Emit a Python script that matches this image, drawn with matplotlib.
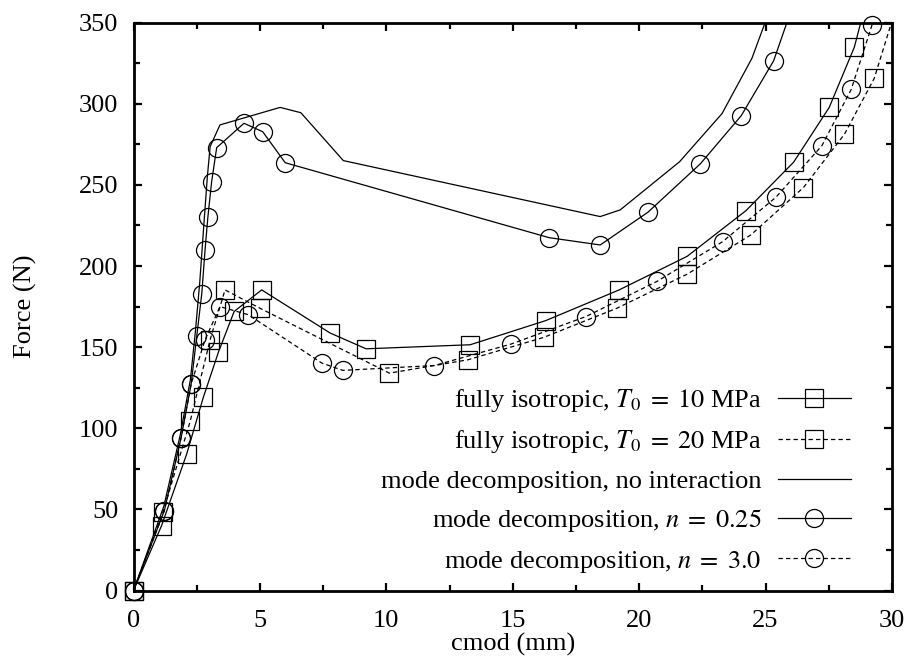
import matplotlib
matplotlib.use("Agg")
import matplotlib.pyplot as plt
from matplotlib.lines import Line2D
from matplotlib.ticker import MultipleLocator

plt.rcParams["font.family"] = ["Liberation Serif", "DejaVu Serif"]
plt.rcParams["mathtext.fontset"] = "stix"

# fully isotropic, T0 = 10 MPa
iso10_x = [0.0, 1.11, 2.10, 2.76, 3.36, 3.98, 5.07, 7.78, 9.20, 13.32, 16.31, 19.21, 21.90, 24.23, 26.11, 27.52, 28.51, 28.90]
iso10_y = [0.0, 40.0, 84.0, 119.0, 147.0, 172.0, 185.3, 158.7, 149.0, 151.5, 166.4, 185.3, 206.0, 234.2, 264.0, 297.8, 334.8, 358.0]

# fully isotropic, T0 = 20 MPa
iso20_x = [0.0, 1.17, 2.24, 3.03, 3.62, 5.00, 10.12, 13.22, 16.22, 19.12, 21.90, 24.42, 26.50, 28.12, 29.30, 30.10]
iso20_y = [0.0, 48.6, 104.2, 154.6, 185.3, 174.0, 134.0, 142.2, 156.0, 174.0, 195.0, 219.2, 248.4, 281.2, 315.7, 356.0]

# mode decomposition, no interaction
noint_x = [0.0, 1.20, 1.85, 2.25, 2.45, 2.62, 2.78, 2.92, 3.03, 3.42, 5.80, 6.62, 8.30, 18.46, 19.25, 21.60, 23.28, 24.46, 25.10]
noint_y = [0.0, 52.0, 96.0, 130.0, 160.0, 190.0, 225.0, 255.0, 273.6, 287.0, 297.8, 294.5, 265.0, 230.5, 234.6, 264.3, 294.0, 328.0, 355.0]

# mode decomposition, n = 0.25
n025_x = [0.0, 1.22, 1.88, 2.28, 2.50, 2.70, 2.83, 2.94, 3.09, 3.29, 4.37, 5.11, 6.00, 16.44, 18.46, 20.35, 22.42, 24.04, 25.32, 26.00]
n025_y = [0.0, 49.3, 94.0, 127.3, 156.6, 183.0, 210.0, 230.0, 252.0, 273.0, 288.0, 282.8, 263.7, 217.5, 213.0, 233.2, 263.0, 292.7, 326.5, 357.0]

# mode decomposition, n = 3.0
n30_x = [0.0, 1.22, 1.88, 2.28, 2.83, 3.42, 4.54, 7.45, 8.28, 11.90, 14.93, 17.90, 20.70, 23.30, 25.41, 27.23, 28.39, 29.21, 29.35]
n30_y = [0.0, 49.3, 94.0, 127.3, 154.6, 175.0, 170.0, 140.2, 135.7, 138.7, 151.9, 168.9, 190.5, 215.0, 242.4, 274.2, 308.9, 348.5, 358.0]

labels = [
    r"fully isotropic, $T_0\;=\;10$ MPa",
    r"fully isotropic, $T_0\;=\;20$ MPa",
    "mode decomposition, no interaction",
    r"mode decomposition, $n\;=\;0.25$",
    r"mode decomposition, $n\;=\;3.0$",
]

fig = plt.figure(figsize=(9.12, 6.56), dpi=100)
ax = fig.add_axes([0.1464, 0.0998, 0.8316, 0.8656])

dash = (0, (3.5, 2.5))
mk = dict(markersize=13, markerfacecolor="none", markeredgecolor="black", markeredgewidth=0.9)

series = [
    (iso10_x, iso10_y, "-", "s"),
    (iso20_x, iso20_y, dash, "s"),
    (noint_x, noint_y, "-", None),
    (n025_x, n025_y, "-", "o"),
    (n30_x, n30_y, dash, "o"),
]

handles = []
for (xs, ys, ls, m), lab in zip(series, labels):
    ax.plot(xs, ys, color="black", lw=0.9, ls=ls)
    if m is not None:
        # last point of each series is past the top edge, no marker there
        ax.plot(xs[:-1], ys[:-1], ls="none", marker=m, clip_on=False, zorder=3, **mk)
        handles.append(Line2D([], [], color="black", lw=0.9, ls=ls, marker=m, **mk))
    else:
        handles.append(Line2D([], [], color="black", lw=0.9, ls=ls))

ax.set_xlim(0, 30)
ax.set_ylim(0, 350)
ax.xaxis.set_major_locator(MultipleLocator(5))
ax.xaxis.set_minor_locator(MultipleLocator(2.5))
ax.yaxis.set_major_locator(MultipleLocator(50))
ax.yaxis.set_minor_locator(MultipleLocator(25))
ax.tick_params(which="both", direction="in", top=True, right=True, width=1.6, labelsize=19)
ax.tick_params(which="major", length=6)
ax.tick_params(which="minor", length=4)
ax.tick_params(axis="x", pad=14)
ax.tick_params(axis="y", pad=11)
for s in ax.spines.values():
    s.set_linewidth(2.0)

ax.set_xlabel("cmod (mm)", fontsize=19, labelpad=1)
ax.set_ylabel("Force (N)", fontsize=19, labelpad=30)

ax.legend(handles, labels, loc="lower right", bbox_to_anchor=(0.9456, 0.028), frameon=False, fontsize=19,
          markerfirst=False, handlelength=2.77, handletextpad=0.6, labelspacing=0.54,
          borderpad=0, borderaxespad=0)

fig.savefig("out.png", dpi=100)
